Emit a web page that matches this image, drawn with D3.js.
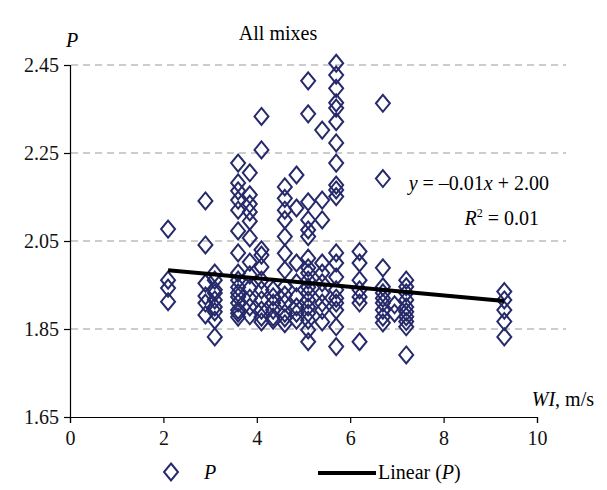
<!DOCTYPE html>
<html>
<head>
<meta charset="utf-8">
<script src="https://cdn.jsdelivr.net/npm/d3@7"></script>
<style>
  body { margin: 0; background: #fff; }
  svg { display: block; font-family: "Liberation Serif", "DejaVu Serif", serif; }
</style>
</head>
<body>
<svg id="chart"></svg>
<script>
// WI levels (m/s) and the P values measured at each level
const wiLevels = [2.1, 2.9, 3.1, 3.6, 3.85, 4.1, 4.35, 4.6, 4.85, 5.1, 5.4, 5.7, 6.2, 6.7, 6.95, 7.2, 9.3];
const pValues = [
  [2.077, 1.961, 1.943, 1.912],
  [2.141, 2.041, 1.954, 1.925, 1.909, 1.882],
  [1.977, 1.961, 1.939, 1.932, 1.916, 1.900, 1.889, 1.870, 1.832],
  [2.227, 2.182, 2.164, 2.143, 2.120, 2.073, 2.023, 1.977, 1.961, 1.945, 1.932, 1.923, 1.909, 1.893, 1.886, 1.877],
  [2.205, 2.155, 2.134, 2.116, 2.095, 2.057, 2.002, 1.973, 1.943, 1.920, 1.900, 1.880],
  [2.333, 2.257, 2.030, 2.018, 1.991, 1.961, 1.939, 1.916, 1.893, 1.877, 1.866],
  [1.939, 1.923, 1.909, 1.893, 1.877, 1.870],
  [2.173, 2.147, 2.120, 2.098, 2.060, 2.022, 1.984, 1.946, 1.927, 1.909, 1.886, 1.875, 1.862],
  [2.200, 2.125, 2.000, 1.955, 1.923, 1.900, 1.886, 1.870],
  [2.414, 2.339, 2.139, 2.098, 2.075, 2.060, 2.011, 1.989, 1.977, 1.961, 1.945, 1.932, 1.916, 1.900, 1.886, 1.870, 1.848, 1.821],
  [2.302, 2.143, 2.098, 2.000, 1.977, 1.955, 1.932, 1.909, 1.893, 1.866],
  [2.454, 2.427, 2.397, 2.364, 2.352, 2.321, 2.273, 2.227, 2.177, 2.166, 2.151, 2.023, 2.000, 1.968, 1.939, 1.920, 1.909, 1.893, 1.855, 1.810],
  [2.026, 2.000, 1.961, 1.939, 1.923, 1.909, 1.821],
  [2.363, 2.192, 1.989, 1.946, 1.932, 1.920, 1.909, 1.893, 1.877, 1.864],
  [1.905, 1.886],
  [1.961, 1.946, 1.932, 1.916, 1.900, 1.889, 1.878, 1.867, 1.855, 1.791],
  [1.935, 1.916, 1.893, 1.867, 1.832]
];

// Linear trend (Excel-style fit)
const trendSlope = -0.0097;
const trendIntercept = 2.004;
const trendRange = [2.1, 9.3];

const xTicks = [0, 2, 4, 6, 8, 10];
const yTicks = [1.65, 1.85, 2.05, 2.25, 2.45];

const width = 607, height = 490;
const navy = "#262a6b";
const fs = "20px";

const svg = d3.select("#chart").attr("width", width).attr("height", height);

const x = d3.scaleLinear().domain([0, 10]).range([70, 537]);
const y = d3.scaleLinear().domain([1.65, 2.45]).range([417, 65]);

// flatten points
const points = [];
wiLevels.forEach((w, i) => pValues[i].forEach(p => points.push({ wi: w, p: p })));

// dashed gridlines
svg.append("g")
  .selectAll("line")
  .data(yTicks.slice(1))
  .join("line")
  .attr("x1", 71).attr("x2", 566)
  .attr("y1", d => y(d)).attr("y2", d => y(d))
  .attr("stroke", "#9a9a9a")
  .attr("stroke-width", 1)
  .attr("stroke-dasharray", "7,5");

// axes
const xAxis = svg.append("g")
  .attr("transform", `translate(0,${y(1.65)})`)
  .call(d3.axisBottom(x).tickValues(xTicks).tickSize(6).tickPadding(8));
const yAxis = svg.append("g")
  .attr("transform", `translate(${x(0)},0)`)
  .call(d3.axisLeft(y).tickValues(yTicks).tickSize(6).tickPadding(5).tickFormat(d3.format(".2f")));

[xAxis, yAxis].forEach(a => {
  a.select(".domain").attr("stroke", "#000").attr("stroke-width", 1.2);
  a.selectAll(".tick line").attr("stroke", "#000").attr("stroke-width", 1.2);
  a.selectAll(".tick text")
    .attr("fill", "#111")
    .style("font-family", "'Liberation Serif', serif")
    .style("font-size", fs);
});

// diamonds
const diamond = (cx, cy) => `M${cx},${cy - 8.5}L${cx + 7},${cy}L${cx},${cy + 8.5}L${cx - 7},${cy}Z`;

svg.append("g")
  .selectAll("path")
  .data(points)
  .join("path")
  .attr("d", d => diamond(x(d.wi), y(d.p)))
  .attr("fill", "none")
  .attr("stroke", navy)
  .attr("stroke-width", 2);

// trend line
svg.append("line")
  .attr("x1", x(trendRange[0])).attr("y1", y(trendSlope * trendRange[0] + trendIntercept))
  .attr("x2", x(trendRange[1])).attr("y2", y(trendSlope * trendRange[1] + trendIntercept))
  .attr("stroke", "#000")
  .attr("stroke-width", 4);

// title and axis labels
svg.append("text")
  .attr("x", 278).attr("y", 40)
  .attr("text-anchor", "middle")
  .style("font-size", fs)
  .text("All mixes");

svg.append("text")
  .attr("x", 66).attr("y", 47)
  .style("font-size", fs)
  .style("font-style", "italic")
  .text("P");

const wiLabel = svg.append("text")
  .attr("x", 594).attr("y", 406)
  .attr("text-anchor", "end")
  .style("font-size", fs);
wiLabel.append("tspan").style("font-style", "italic").text("WI");
wiLabel.append("tspan").text(", m/s");

// equation
const eq = svg.append("text")
  .attr("x", 549).attr("y", 190)
  .attr("text-anchor", "end")
  .style("font-size", fs);
eq.append("tspan").style("font-style", "italic").text("y");
eq.append("tspan").text(" = \u20130.01");
eq.append("tspan").style("font-style", "italic").text("x");
eq.append("tspan").text(" + 2.00");

const r2 = svg.append("text")
  .attr("x", 539).attr("y", 225)
  .attr("text-anchor", "end")
  .style("font-size", fs);
r2.append("tspan").style("font-style", "italic").text("R");
r2.append("tspan").attr("dy", -8).style("font-size", "12px").text("2");
r2.append("tspan").attr("dy", 8).text(" = 0.01");

// legend
const legend = svg.append("g");
legend.append("path")
  .attr("d", diamond(171, 472))
  .attr("fill", "none")
  .attr("stroke", navy)
  .attr("stroke-width", 2);
legend.append("text")
  .attr("x", 204).attr("y", 479)
  .style("font-size", fs)
  .style("font-style", "italic")
  .text("P");
legend.append("line")
  .attr("x1", 318).attr("x2", 376)
  .attr("y1", 473).attr("y2", 473)
  .attr("stroke", "#000")
  .attr("stroke-width", 4);
const lt = legend.append("text")
  .attr("x", 378).attr("y", 479)
  .style("font-size", fs);
lt.append("tspan").text("Linear (");
lt.append("tspan").style("font-style", "italic").text("P");
lt.append("tspan").text(")");
</script>
</body>
</html>
